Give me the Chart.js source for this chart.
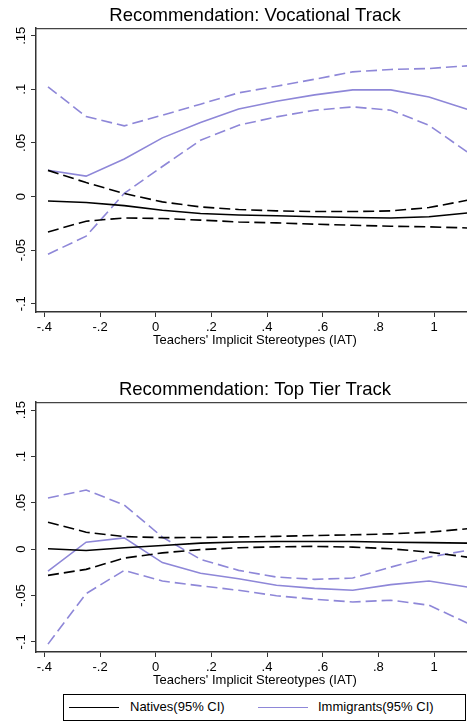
<!DOCTYPE html>
<html>
<head>
<meta charset="utf-8">
<script src="https://cdn.jsdelivr.net/npm/chart.js@4.4.0/dist/chart.umd.min.js"></script>
<style>
  html, body { margin: 0; padding: 0; background: #fff; }
  body { width: 467px; height: 722px; overflow: hidden; position: relative; font-family: "Liberation Sans", Arial, sans-serif; }
  canvas { position: absolute; left: 0; }
  #voc { top: 0; }
  #top { top: 374px; }
  .legend { position: absolute; left: 63px; top: 694px; width: 401px; height: 25px; border: 1px solid #000; font-size: 13px; color: #000; }
  .legend .sw { position: absolute; top: 12px; width: 50px; height: 0; border-top: 1.6px solid; }
  .legend .tx { position: absolute; top: 4px; white-space: nowrap; }
</style>
</head>
<body>
<canvas id="voc" width="480" height="352"></canvas>
<canvas id="top" width="480" height="316"></canvas>
<div class="legend">
  <div class="sw" style="left:5px;border-color:#000"></div><div class="tx" style="left:66px">Natives(95% CI)</div>
  <div class="sw" style="left:194px;border-color:rgb(142,135,216)"></div><div class="tx" style="left:254px">Immigrants(95% CI)</div>
</div>
<script>
// x positions of the estimates (IAT)
var iat = [-0.387, -0.250, -0.113, 0.024, 0.161, 0.298, 0.434, 0.571, 0.708, 0.845, 0.982, 1.119];

// Recommendation: Vocational Track
var vocNat   = [-0.0041, -0.0056, -0.0085, -0.0128, -0.0158, -0.0172, -0.0179, -0.0188, -0.0196, -0.0200, -0.0188, -0.0153];
var vocNatHi = [0.0244, 0.0130, 0.0028, -0.0050, -0.0097, -0.0121, -0.0134, -0.0140, -0.0140, -0.0134, -0.0103, -0.0035];
var vocNatLo = [-0.0330, -0.0230, -0.0200, -0.0205, -0.0220, -0.0237, -0.0246, -0.0258, -0.0268, -0.0277, -0.0283, -0.0293];
var vocImm   = [0.0245, 0.0190, 0.0350, 0.0547, 0.0690, 0.0817, 0.0889, 0.0948, 0.0995, 0.0995, 0.0929, 0.0815];
var vocImmHi = [0.1023, 0.0746, 0.0659, 0.0759, 0.0861, 0.0967, 0.1029, 0.1094, 0.1163, 0.1185, 0.1194, 0.1219];
var vocImmLo = [-0.0538, -0.0370, 0.0030, 0.0280, 0.0525, 0.0665, 0.0743, 0.0805, 0.0836, 0.0805, 0.0665, 0.0416];

// Recommendation: Top Tier Track
var topNat   = [0.0004, -0.0014, 0.0015, 0.0040, 0.0065, 0.0078, 0.0082, 0.0083, 0.0083, 0.0075, 0.0070, 0.0065];
var topNatHi = [0.0290, 0.0183, 0.0136, 0.0124, 0.0126, 0.0132, 0.0138, 0.0147, 0.0155, 0.0165, 0.0183, 0.0220];
var topNatLo = [-0.0283, -0.0218, -0.0097, -0.0040, -0.0005, 0.0015, 0.0025, 0.0030, 0.0022, 0.0004, -0.0032, -0.0086];
var topImm   = [-0.0237, 0.0075, 0.0122, -0.0145, -0.0260, -0.0320, -0.0390, -0.0423, -0.0444, -0.0383, -0.0344, -0.0408];
var topImmHi = [0.0553, 0.0638, 0.0477, 0.0130, -0.0110, -0.0229, -0.0301, -0.0326, -0.0312, -0.0194, -0.0086, -0.0014];
var topImmLo = [-0.1025, -0.0480, -0.0229, -0.0344, -0.0396, -0.0444, -0.0503, -0.0541, -0.0570, -0.0551, -0.0605, -0.0796];

// ticks
var xTicks = [-0.4, -0.2, 0, 0.2, 0.4, 0.6, 0.8, 1];
var xTickLabels = ['-.4', '-.2', '0', '.2', '.4', '.6', '.8', '1'];
var yTicks = [-0.1, -0.05, 0, 0.05, 0.1, 0.15];
var yTickLabels = ['-.1', '-.05', '0', '.05', '.1', '.15'];

var purple = 'rgb(142,135,216)';
var axisCol = '#333';
var fontFam = '"Liberation Sans", Arial, sans-serif';

function pts(ys) {
  return ys.map(function (y, i) { return {x: iat[i], y: y}; });
}

function line(ys, color, dashed) {
  return {
    data: pts(ys),
    borderColor: color,
    borderWidth: 1.6,
    borderDash: dashed ? [11, 5] : [],
    pointRadius: 0,
    tension: 0,
    fill: false
  };
}

// rotated y labels, like stata
var yLabels = {
  id: 'yLabels',
  afterDraw: function (chart) {
    var s = chart.scales.y, ctx = chart.ctx;
    ctx.save();
    ctx.fillStyle = '#000';
    ctx.font = '13px ' + fontFam;
    ctx.textAlign = 'center';
    ctx.textBaseline = 'middle';
    s.ticks.forEach(function (t, i) {
      ctx.save();
      ctx.translate(21, s.getPixelForTick(i));
      ctx.rotate(-Math.PI / 2);
      ctx.fillText(yTickLabels[i], 0, 0);
      ctx.restore();
    });
    ctx.restore();
  }
};

function makeChart(id, title, sets, ymin, ymax, xAxisH, titleBottomPad) {
  return new Chart(document.getElementById(id).getContext('2d'), {
    type: 'line',
    data: {
      datasets: [
        line(sets[0], '#000', false),
        line(sets[1], '#000', true),
        line(sets[2], '#000', true),
        line(sets[3], purple, false),
        line(sets[4], purple, true),
        line(sets[5], purple, true)
      ]
    },
    options: {
      responsive: false,
      animation: false,
      layout: {padding: {left: 0, right: 6, top: 0, bottom: 0}},
      plugins: {
        legend: {display: false},
        tooltip: {enabled: false},
        title: {
          display: true,
          text: title,
          fullSize: false,
          color: '#000',
          font: {family: fontFam, size: 18.5, weight: 'normal'},
          padding: {top: 5, bottom: 1}
        }
      },
      scales: {
        x: {
          type: 'linear',
          min: -0.4301,
          max: 1.1437,
          afterBuildTicks: function (s) { s.ticks = xTicks.map(function (v) { return {value: v}; }); },
          afterFit: function (s) { s.height = xAxisH; },
          grid: {display: true, drawOnChartArea: false, drawTicks: true, tickLength: 5, color: axisCol, lineWidth: 1},
          border: {display: true, color: axisCol, width: 1.5},
          ticks: {
            color: '#000',
            font: {family: fontFam, size: 13},
            padding: 3,
            maxRotation: 0,
            autoSkip: false,
            callback: function (v, i) { return xTickLabels[i]; }
          },
          title: {
            display: true,
            text: "Teachers' Implicit Stereotypes (IAT)",
            color: '#000',
            font: {family: fontFam, size: 13},
            padding: {top: 0, bottom: titleBottomPad}
          }
        },
        x2: {
          type: 'linear',
          position: 'top',
          min: -0.4301,
          max: 1.1437,
          afterFit: function (s) { s.height = 0; },
          grid: {display: false},
          border: {display: true, color: '#444', width: 1.2},
          ticks: {display: false}
        },
        y: {
          type: 'linear',
          min: ymin,
          max: ymax,
          afterBuildTicks: function (s) { s.ticks = yTicks.map(function (v) { return {value: v}; }); },
          afterFit: function (s) { s.width = 36; },
          grid: {display: true, drawOnChartArea: false, drawTicks: true, tickLength: 5, color: axisCol, lineWidth: 1},
          border: {display: true, color: axisCol, width: 1.5},
          ticks: {display: false}
        }
      }
    },
    plugins: [yLabels]
  });
}

makeChart('voc', 'Recommendation: Vocational Track',
  [vocNat, vocNatHi, vocNatLo, vocImm, vocImmHi, vocImmLo], -0.1077, 0.157, 40, 3.5);
makeChart('top', 'Recommendation: Top Tier Track',
  [topNat, topNatHi, topNatLo, topImm, topImmHi, topImmLo], -0.111, 0.1586, 38, 1.5);
</script>
</body>
</html>
